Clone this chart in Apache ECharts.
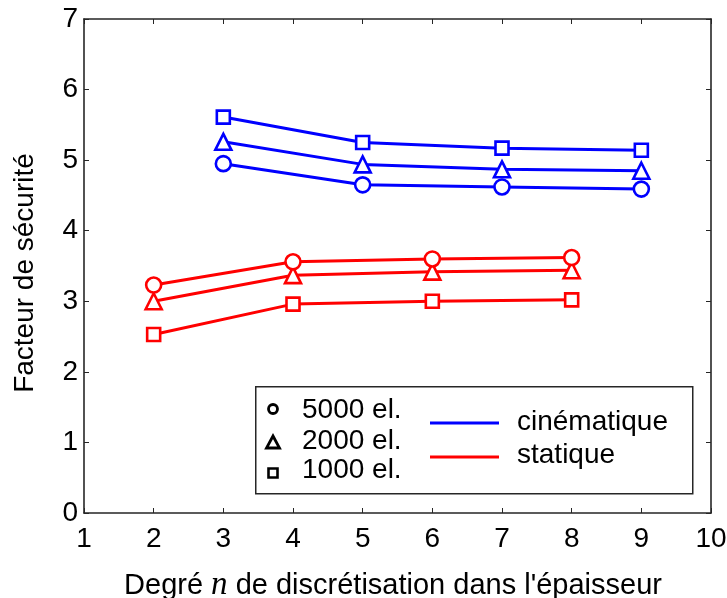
<!DOCTYPE html>
<html>
<head>
<meta charset="utf-8">
<script src="https://cdn.jsdelivr.net/npm/echarts@6/dist/echarts.min.js"></script>
<style>
html,body{margin:0;padding:0;background:#fff;}
#chart{width:727px;height:598px;}
</style>
</head>
<body>
<div id="chart"></div>
<script>
// ---- data ----
const xCinematique = [3, 5, 7, 9];
const xStatique = [2, 4, 6, 8];
const cin5000 = [4.95, 4.65, 4.62, 4.59];
const cin2000 = [5.26, 4.94, 4.87, 4.85];
const cin1000 = [5.61, 5.25, 5.17, 5.14];
const sta5000 = [3.23, 3.56, 3.60, 3.62];
const sta2000 = [3.00, 3.37, 3.42, 3.44];
const sta1000 = [2.53, 2.96, 3.00, 3.02];
const xTicks = [1, 2, 3, 4, 5, 6, 7, 8, 9, 10];
const yTicks = [0, 1, 2, 3, 4, 5, 6, 7];
const meshLabels = ['5000 el.', '2000 el.', '1000 el.'];
const methodLabels = ['cinématique', 'statique'];

const BLUE = '#0000ff', RED = '#ff0000', AX = '#262626';
const FONT = '"Liberation Sans", Arial, Helvetica, sans-serif';
const FS = 28;

function pairs(xs, ys) { return xs.map((x, i) => [x, ys[i]]); }

function mkSeries(name, xs, ys, color, symbol, size) {
  return {
    name: name, type: 'line', xAxisIndex: 0, yAxisIndex: 0,
    data: pairs(xs, ys),
    symbol: symbol, symbolSize: size,
    lineStyle: { color: color, width: 3 },
    itemStyle: { color: '#fff', borderColor: color, borderWidth: 2.6 },
    emphasis: { disabled: true },
    animation: false, z: 3
  };
}

const chart = echarts.init(document.getElementById('chart'), null, { renderer: 'canvas' });

const axisCommon = {
  type: 'value',
  axisLine: { show: true, onZero: false, lineStyle: { color: AX, width: 1.6 } },
  axisTick: { show: true, inside: true, length: 5, lineStyle: { color: AX, width: 1 } },
  splitLine: { show: false }
};

const option = {
  backgroundColor: '#fff',
  animation: false,
  grid: { left: 84, right: 16, top: 19, bottom: 85, containLabel: false, outerBoundsMode: 'none' },
  xAxis: [
    Object.assign({}, axisCommon, {
      position: 'bottom', min: xTicks[0], max: xTicks[xTicks.length - 1], interval: 1,
      axisLabel: { color: '#000', fontFamily: FONT, fontSize: FS, margin: 12 },
      name: '{a|Degré }{n|n}{a| de discrétisation dans l\'épaisseur}',
      nameLocation: 'middle', nameGap: 56,
      nameTextStyle: {
        padding: [0, 9, 0, 0],
        rich: {
          a: { fontFamily: FONT, fontSize: 29, color: '#000' },
          n: { fontFamily: '"Liberation Serif", "DejaVu Serif", serif', fontStyle: 'italic', fontSize: 33, color: '#000' }
        }
      }
    }),
    Object.assign({}, axisCommon, {
      position: 'top', min: xTicks[0], max: xTicks[xTicks.length - 1], interval: 1,
      axisLabel: { show: false }
    })
  ],
  yAxis: [
    Object.assign({}, axisCommon, {
      position: 'left', min: yTicks[0], max: yTicks[yTicks.length - 1], interval: 1,
      axisLabel: { color: '#000', fontFamily: FONT, fontSize: FS, margin: 6 },
      name: 'Facteur de sécurité', nameLocation: 'middle', nameGap: 45,
      nameTextStyle: { fontFamily: FONT, fontSize: FS, color: '#000', padding: [0, 14, 0, 0] }
    }),
    Object.assign({}, axisCommon, {
      position: 'right', min: yTicks[0], max: yTicks[yTicks.length - 1], interval: 1,
      axisLabel: { show: false }
    })
  ],
  series: [
    mkSeries('cin1000', xCinematique, cin1000, BLUE, 'rect', 13),
    mkSeries('cin2000', xCinematique, cin2000, BLUE, 'triangle', 16),
    mkSeries('cin5000', xCinematique, cin5000, BLUE, 'circle', 15),
    mkSeries('sta1000', xStatique, sta1000, RED, 'rect', 13),
    mkSeries('sta2000', xStatique, sta2000, RED, 'triangle', 16),
    mkSeries('sta5000', xStatique, sta5000, RED, 'circle', 15)
  ],
  graphic: [
    { type: 'rect', left: 255, top: 386, shape: { width: 437, height: 107 }, z: 10,
      style: { fill: '#fff', stroke: AX, lineWidth: 1.5 } },
    { type: 'circle', shape: { cx: 273, cy: 409, r: 4.5 }, z: 11,
      style: { fill: '#fff', stroke: '#000', lineWidth: 2.8 } },
    { type: 'polygon', shape: { points: [[273, 436], [279.5, 448], [266.5, 448]] }, z: 11,
      style: { fill: '#fff', stroke: '#000', lineWidth: 2.8 } },
    { type: 'rect', shape: { x: 268.5, y: 468.5, width: 9, height: 9 }, z: 11,
      style: { fill: '#fff', stroke: '#000', lineWidth: 2.6 } },
    { type: 'text', x: 302, y: 410, z: 11,
      style: { text: meshLabels[0], font: FS + 'px ' + FONT, fill: '#000', textVerticalAlign: 'middle' } },
    { type: 'text', x: 302, y: 441, z: 11,
      style: { text: meshLabels[1], font: FS + 'px ' + FONT, fill: '#000', textVerticalAlign: 'middle' } },
    { type: 'text', x: 302, y: 470, z: 11,
      style: { text: meshLabels[2], font: FS + 'px ' + FONT, fill: '#000', textVerticalAlign: 'middle' } },
    { type: 'line', shape: { x1: 430, y1: 423, x2: 499, y2: 423 }, z: 11,
      style: { stroke: BLUE, lineWidth: 3 } },
    { type: 'line', shape: { x1: 430, y1: 457, x2: 499, y2: 457 }, z: 11,
      style: { stroke: RED, lineWidth: 3 } },
    { type: 'text', x: 517, y: 422, z: 11,
      style: { text: methodLabels[0], font: FS + 'px ' + FONT, fill: '#000', textVerticalAlign: 'middle' } },
    { type: 'text', x: 517, y: 455, z: 11,
      style: { text: methodLabels[1], font: FS + 'px ' + FONT, fill: '#000', textVerticalAlign: 'middle' } }
  ]
};
chart.setOption(option);
</script>
</body>
</html>
